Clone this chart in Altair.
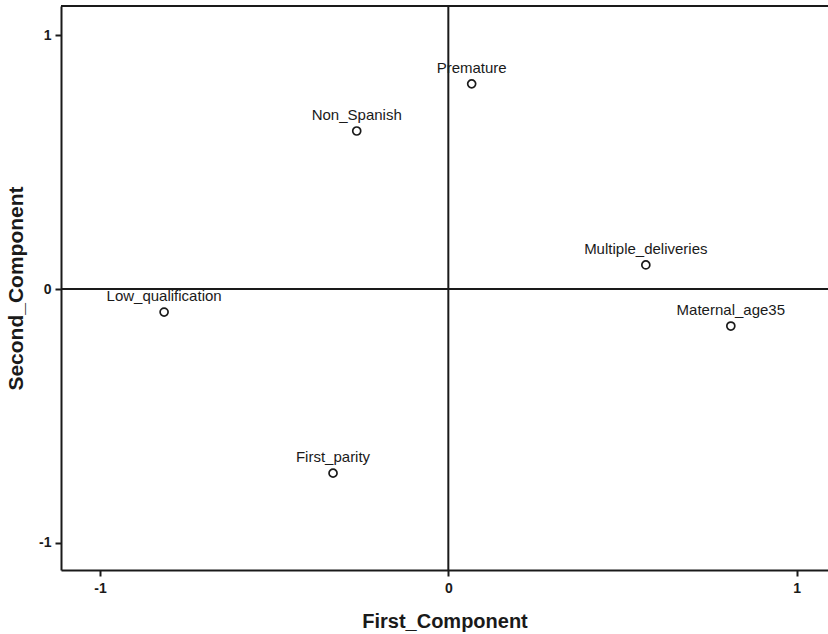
import altair as alt
import pandas as pd

# Component loadings of each variable
labels = ["Premature", "Non_Spanish", "Multiple_deliveries",
          "Maternal_age35", "Low_qualification", "First_parity"]
first_component = [0.067, -0.263, 0.567, 0.811, -0.816, -0.331]
second_component = [0.809, 0.623, 0.095, -0.146, -0.091, -0.726]

tick_values = [-1, 0, 1]
x_domain = [-1.112, 1.09]
y_domain = [-1.108, 1.116]

df = pd.DataFrame({
    "label": labels,
    "First_Component": first_component,
    "Second_Component": second_component,
})

FONT = "Liberation Sans"
INK = "#1a1a1a"
W, H = 767, 564

x_enc = alt.X(
    "First_Component:Q",
    scale=alt.Scale(domain=x_domain, nice=False, zero=False),
    axis=alt.Axis(
        values=tick_values, labelExpr="'' + datum.value", grid=False,
        domainColor=INK, domainWidth=2, tickColor=INK, tickWidth=2, tickSize=6,
        labelFont=FONT, labelFontWeight="bold", labelFontSize=14, labelColor=INK,
        labelPadding=5, title="First_Component", titleFont=FONT, titleFontSize=20,
        titleFontWeight="bold", titleColor=INK, titleBaseline="middle", titleY=51,
    ),
)
y_enc = alt.Y(
    "Second_Component:Q",
    scale=alt.Scale(domain=y_domain, nice=False, zero=False),
    axis=alt.Axis(
        values=tick_values, labelExpr="'' + datum.value", grid=False,
        domainColor=INK, domainWidth=2, tickColor=INK, tickWidth=2, tickSize=6,
        labelFont=FONT, labelFontWeight="bold", labelFontSize=14, labelColor=INK,
        labelPadding=4, title="Second_Component", titleFont=FONT, titleFontSize=21,
        titleFontWeight="bold", titleColor=INK, titleBaseline="middle", titleX=-45,
    ),
)

base = alt.Chart(df)

points = base.mark_point(
    shape="circle", filled=False, size=64, strokeWidth=1.7, color=INK, opacity=1
).encode(x=x_enc, y=y_enc)

text = base.mark_text(
    dy=-16, fontSize=15, font=FONT, color=INK, baseline="middle", align="center"
).encode(x="First_Component:Q", y="Second_Component:Q", text="label:N")

zero_v = alt.Chart(pd.DataFrame({"v": [0]})).mark_rule(
    color=INK, strokeWidth=2
).encode(x=alt.datum(0))
zero_h = alt.Chart(pd.DataFrame({"v": [0]})).mark_rule(
    color=INK, strokeWidth=2
).encode(y=alt.datum(0))
top_frame = alt.Chart(pd.DataFrame({"v": [0]})).mark_rule(
    color=INK, strokeWidth=2
).encode(y=alt.value(0), x=alt.value(0), x2=alt.value(W))

chart = (
    alt.layer(points, zero_v, zero_h, top_frame, text)
    .properties(
        width=W, height=H,
        padding={"left": 61, "top": 6, "right": 0, "bottom": 64},
        autosize=alt.AutoSizeParams(type="none"),
        background="white",
    )
    .configure_view(stroke=None)
)

chart.save("out.html", embed_options={"renderer": "svg", "actions": False})
